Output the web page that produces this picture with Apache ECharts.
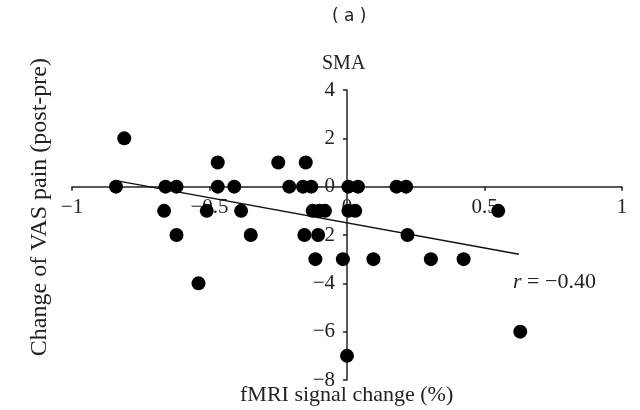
<!DOCTYPE html>
<html>
<head>
<meta charset="utf-8">
<script src="https://cdn.jsdelivr.net/npm/echarts@6/dist/echarts.min.js"></script>
<style>html,body{margin:0;padding:0;background:#fff;}#c{width:640px;height:410px;}</style>
</head>
<body>
<div id="c"></div>
<script>
// Data
const xValues = [-0.81, -0.84, -0.66, -0.62, -0.47, -0.41, -0.21, -0.16, -0.13, 0.005, 0.04, 0.18, 0.215,
  -0.47, -0.25, -0.15,
  -0.665, -0.51, -0.385, -0.125, -0.10, -0.08, 0.005, 0.03, 0.55,
  -0.62, -0.35, -0.155, -0.105, 0.22,
  -0.115, -0.015, 0.096, 0.305, 0.424,
  -0.54, 0.63, 0.0];
const yValues = [2, 0, 0, 0, 0, 0, 0, 0, 0, 0, 0, 0, 0,
  1, 1, 1,
  -1, -1, -1, -1, -1, -1, -1, -1, -1,
  -2, -2, -2, -2, -2,
  -3, -3, -3, -3, -3,
  -4, -6, -7];
const trendX = [-0.84, 0.625];
const trendY = [0.25, -2.8];
const xTicks = [-1, -0.5, 0, 0.5, 1];
const yTicks = [-8, -6, -4, -2, 0, 2, 4];
const titleText = '( a )';
const panelText = 'SMA';
const xName = 'fMRI signal change (%)';
const yName = 'Change of VAS pain (post-pre)';
const rText = '= \u22120.40';

const serif = '"Liberation Serif", "Times New Roman", serif';
const minus = v => String(v).replace('-', '\u2212');
const points = xValues.map((x, i) => [x, yValues[i]]);
const trend = trendX.map((x, i) => [x, trendY[i]]);

const xMin = -1, xMax = 1, yMin = -8, yMax = 4;
const G = {left: 72, right: 18, top: 90, bottom: 30};
const gW = 640 - G.left - G.right, gH = 410 - G.top - G.bottom;
// axes cross at zero: shift each axis from the grid edge to the zero position
const xAxisOffset = -gH * (0 - yMin) / (yMax - yMin);
const yAxisOffset = -gW * (0 - xMin) / (xMax - xMin);

const axisCol = '#222';
const chart = echarts.init(document.getElementById('c'), null, {renderer: 'canvas'});
chart.setOption({
  animation: false,
  backgroundColor: '#fff',
  grid: Object.assign({containLabel: false}, G),
  xAxis: {
    type: 'value', min: xMin, max: xMax, interval: 0.5, position: 'bottom', offset: xAxisOffset,
    axisLine: {onZero: false, lineStyle: {color: axisCol, width: 1.5}},
    axisTick: {show: true, length: 4, lineStyle: {color: axisCol, width: 1.5}},
    axisLabel: {color: axisCol, fontFamily: serif, fontSize: 21, margin: 10,
      formatter: v => xTicks.includes(v) ? minus(v) : ''},
    splitLine: {show: false}
  },
  yAxis: {
    type: 'value', min: yMin, max: yMax, interval: 2, position: 'left', offset: yAxisOffset,
    axisLine: {onZero: false, lineStyle: {color: axisCol, width: 1.5}},
    axisTick: {show: true, length: 4, lineStyle: {color: axisCol, width: 1.5}},
    axisLabel: {color: axisCol, fontFamily: serif, fontSize: 21, margin: 12,
      formatter: v => yTicks.includes(v) ? minus(v) : ''},
    splitLine: {show: false}
  },
  series: [
    {type: 'scatter', data: points, symbol: 'circle', symbolSize: 14,
      itemStyle: {color: '#000', opacity: 1}, z: 3},
    {type: 'line', data: trend, symbol: 'none', showSymbol: false,
      lineStyle: {color: '#111', width: 1.5}, z: 2}
  ],
  graphic: [
    {type: 'text', left: 332, top: 8, style: {text: titleText, font: '17px "DejaVu Sans", sans-serif', fill: '#222'}},
    {type: 'text', left: 322, top: 54, style: {text: panelText, font: '20px ' + serif, fill: '#222'}},
    {type: 'text', left: 240, top: 384, style: {text: xName, font: '22px ' + serif, fill: '#222'}},
    {type: 'text', left: 28, top: 58, rotation: Math.PI / 2, originX: 0, originY: 0,
      style: {text: yName, font: '24px ' + serif, fill: '#222'}},
    {type: 'text', left: 513, top: 271, style: {
      text: '{i|r} ' + rText, font: '22px ' + serif, fill: '#222',
      rich: {i: {fontStyle: 'italic', fontFamily: serif, fontSize: 22, fill: '#222'}}
    }}
  ]
});
</script>
</body>
</html>
